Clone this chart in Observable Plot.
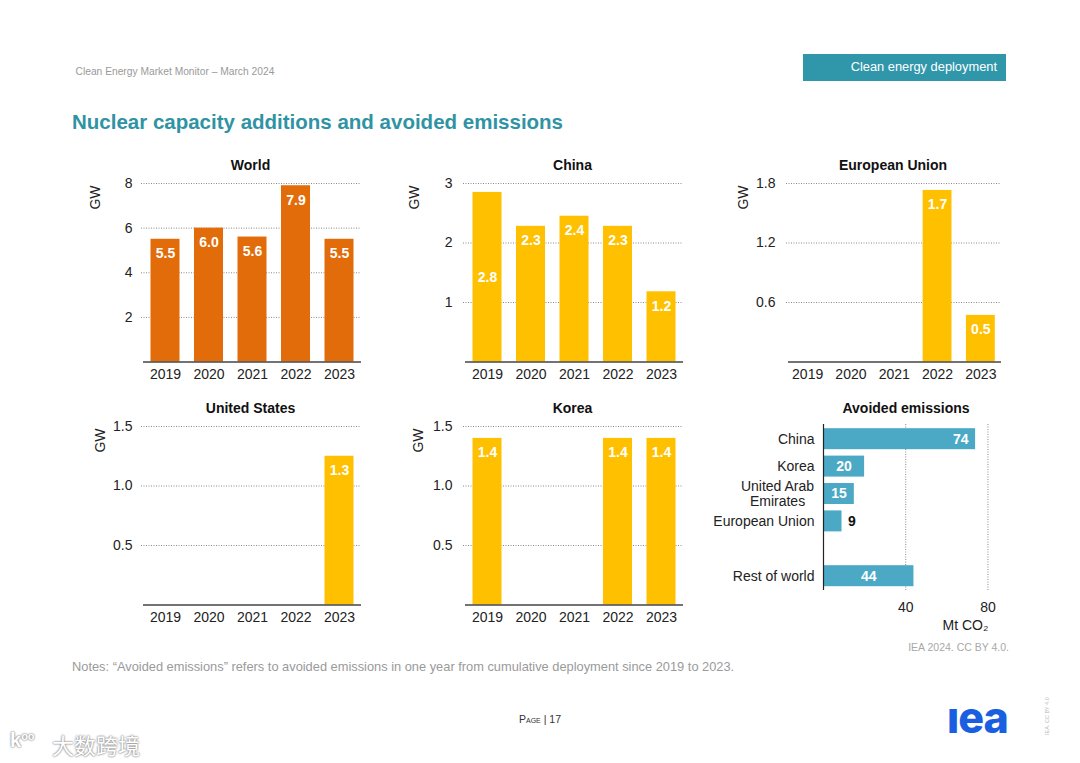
<!DOCTYPE html>
<html><head><meta charset="utf-8">
<script src="https://cdn.jsdelivr.net/npm/d3@7"></script>
<script src="https://cdn.jsdelivr.net/npm/@observablehq/plot@0.6"></script>
<style>
html,body{margin:0;padding:0;background:#fff;}
body{position:relative;width:1080px;height:763px;overflow:hidden;font-family:"Liberation Sans",Arial,sans-serif;}
.t{position:absolute;white-space:nowrap;line-height:1;}
.p{position:absolute;}
.p svg{display:block;overflow:visible;background:transparent;}
</style></head><body>
<div class="t" style="left:75.5px;top:67px;font-size:10.25px;color:#9a9a9a">Clean Energy Market Monitor – March 2024</div>
<div class="t" style="left:803px;top:54px;width:203px;height:27px;background:#3096aa"></div>
<div class="t" style="right:83px;top:61px;font-size:12.85px;color:#fff">Clean energy deployment</div>
<div class="t" style="left:72px;top:112px;font-size:20.5px;font-weight:bold;color:#2f93a4">Nuclear capacity additions and avoided emissions</div>
<div id="charts"></div>
<div class="t" style="right:71px;top:642px;font-size:10.5px;color:#a8a8a8">IEA 2024. CC BY 4.0.</div>
<div class="t" style="left:72px;top:661px;font-size:12.83px;color:#9a9a9a">Notes: “Avoided emissions” refers to avoided emissions in one year from cumulative deployment since 2019 to 2023.</div>
<div class="t" style="left:519px;top:714px;font-size:10.5px;color:#333;font-variant:small-caps">Page | 17</div>
<div class="t" style="left:947px;top:696px;font-size:43px;font-weight:800;letter-spacing:-1px;color:#1a5fe0;font-family:Inter,sans-serif">ıea</div>
<div class="t" style="left:1045px;top:735px;font-size:5.5px;color:#bbb;transform-origin:0 0;transform:rotate(-90deg)">IEA. CC BY 4.0</div>
<div class="t" style="left:10px;top:730px;font-size:20px;color:#fff;font-weight:bold;text-shadow:0 0 2px #888,0 0 2px #888">k<span style="font-size:11px;vertical-align:7px">oo</span></div>
<div class="t" style="left:52px;top:733px;font-size:22px;color:#fff;font-family:'Noto Sans CJK SC';text-shadow:0 0 2px #888,0 0 2px #888">大数跨境</div>
<script>
const years = ["2019","2020","2021","2022","2023"];
const worldValues = [5.5,6.0,5.6,7.9,5.5];
const worldLabels = ["5.5","6.0","5.6","7.9","5.5"];
const chinaValues = [2.85,2.28,2.45,2.28,1.18];
const chinaLabels = ["2.8","2.3","2.4","2.3","1.2"];
const euValues = [0,0,0,1.73,0.47];
const euLabels = ["","","","1.7","0.5"];
const usValues = [0,0,0,0,1.25];
const usLabels = ["","","","","1.3"];
const koreaValues = [1.4,0,0,1.4,1.4];
const koreaLabels = ["1.4","","","1.4","1.4"];
const regions = ["China","Korea","United Arab\nEmirates","European Union"," ","Rest of world"];
const avoided = [74,20,15,9,null,44];

const ORANGE="#e36c0a", YELLOW="#ffc000", BLUE="#4ba9c6", GRID="#8a8a8a", INK="#222";
const FONT='"Liberation Sans",Arial,sans-serif';
const host=document.getElementById("charts");
function place(plot,left,top){const d=document.createElement("div");d.className="p";d.style.left=left+"px";d.style.top=top+"px";d.appendChild(plot);host.appendChild(d);}

function panel(o){
  const mL=65,mR=5,mT=30,mB=30;
  const W=mL+(o.R-o.L)+mR, H=mT+(o.B-o.T)+mB;
  const sx=o.L-mL, sy=o.T-mT;
  const rows=years.map((y,i)=>({year:y,v:o.values[i],label:o.labels[i]}));
  const labelled=rows.filter(d=>d.label!=="");
  const isMid=d=>o.midLabel&&d.year===o.midLabel;
  const plot=Plot.plot({
    width:W,height:H,marginLeft:mL,marginRight:mR,marginTop:mT,marginBottom:mB,
    style:{fontFamily:FONT,fontSize:"14px",background:"transparent",color:INK},
    x:{type:"band",domain:years,range:[o.x0-sx,o.x1-sx],paddingInner:1/3,paddingOuter:1/6,round:false,label:null},
    y:{domain:[0,o.max],label:null},
    marks:[
      Plot.ruleY(o.ticks,{stroke:GRID,strokeWidth:1,strokeDasharray:"1,1.5"}),
      Plot.barY(rows,{x:"year",y:"v",fill:o.fill}),
      Plot.ruleY([0],{stroke:"#444",strokeWidth:1.5,insetLeft:2}),
      Plot.axisY({ticks:o.ticks,tickSize:0,tickPadding:o.pad,tickFormat:o.fmt,label:null,fontSize:14}),
      Plot.axisX({tickSize:0,tickPadding:7,label:null,fontSize:14}),
      Plot.text(labelled.filter(d=>!isMid(d)),{x:"year",y:"v",text:"label",dy:14.5,fill:"#fff",fontWeight:"bold",fontSize:14}),
      Plot.text(labelled.filter(isMid),{x:"year",y:d=>d.v/2,text:"label",fill:"#fff",fontWeight:"bold",fontSize:14}),
      Plot.text([o.title],{frameAnchor:"top",lineAnchor:"middle",dy:-18,dx:-1,fontWeight:"bold",fontSize:14,fill:"#111"}),
      Plot.text(["GW"],{frameAnchor:"top-left",textAnchor:"middle",lineAnchor:"middle",rotate:-90,dx:o.gw-o.L,dy:14,fontSize:14,fill:INK})
    ]
  });
  place(plot,sx,sy);
}

panel({title:"World",values:worldValues,labels:worldLabels,fill:ORANGE,max:8,ticks:[2,4,6,8],fmt:"d",L:141,R:361,T:183,B:361.5,x0:143.25,x1:360.75,pad:9,gw:95});
panel({title:"China",values:chinaValues,labels:chinaLabels,fill:YELLOW,max:3,ticks:[1,2,3],fmt:"d",L:463,R:683,T:183,B:361.5,x0:465.25,x1:682.75,pad:11,gw:414,midLabel:"2019"});
panel({title:"European Union",values:euValues,labels:euLabels,fill:YELLOW,max:1.8,ticks:[0.6,1.2,1.8],fmt:".1f",L:786,R:1001,T:183,B:361.5,x0:785.5,x1:1002,pad:11,gw:743});
panel({title:"United States",values:usValues,labels:usLabels,fill:YELLOW,max:1.5,ticks:[0.5,1.0,1.5],fmt:".1f",L:141,R:361,T:426,B:604.5,x0:143.25,x1:360.75,pad:9,gw:100});
panel({title:"Korea",values:koreaValues,labels:koreaLabels,fill:YELLOW,max:1.5,ticks:[0.5,1.0,1.5],fmt:".1f",L:463,R:683,T:426,B:604.5,x0:465.25,x1:682.75,pad:11,gw:418});

(function(){
  const L=823,R=1008,T=424,B=590,mL=120,mR=10,mT=30,mB=50;
  const rows=regions.map((r,i)=>({region:r,v:avoided[i]})).filter(d=>d.v!==null);
  const names=rows.filter(d=>!d.region.includes("\n"));
  const wrapped=rows.filter(d=>d.region.includes("\n"));
  const plot=Plot.plot({
    width:mL+(R-L)+mR,height:mT+(B-T)+mB,marginLeft:mL,marginRight:mR,marginTop:mT,marginBottom:mB,
    style:{fontFamily:FONT,fontSize:"14px",background:"transparent",color:INK},
    x:{domain:[0,90],range:[mL,mL+185],label:null},
    y:{type:"band",domain:regions,range:[mT+1,mT+165.4],paddingInner:0.234,paddingOuter:0.117,round:false,label:null,axis:null},
    marks:[
      Plot.ruleX([40,80],{stroke:GRID,strokeWidth:1,strokeDasharray:"1,1.5"}),
      Plot.barX(rows,{y:"region",x:"v",fill:BLUE}),
      Plot.ruleX([0],{stroke:"#222",strokeWidth:1.2}),
      Plot.axisX({ticks:[40,80],tickSize:0,tickPadding:12,label:null,fontSize:14}),
      Plot.text(names,{x:0,y:"region",text:"region",textAnchor:"end",dx:-9,fontSize:14,fill:INK}),
      Plot.text(wrapped,{x:0,y:"region",text:"region",textAnchor:"middle",dx:-46,lineHeight:1.08,fontSize:14,fill:INK}),
      Plot.text(rows.filter(d=>d.v===74),{x:"v",y:"region",text:"v",textAnchor:"end",dx:-7,fill:"#fff",fontWeight:"bold",fontSize:14}),
      Plot.text(rows.filter(d=>d.v>=15&&d.v<50),{x:d=>d.v/2,y:"region",text:"v",fill:"#fff",fontWeight:"bold",fontSize:14}),
      Plot.text(rows.filter(d=>d.v<15),{x:"v",y:"region",text:"v",textAnchor:"start",dx:6,fill:"#111",fontWeight:"bold",fontSize:14}),
      Plot.text(["Avoided emissions"],{frameAnchor:"top",lineAnchor:"middle",dy:-16,dx:-10,fontWeight:"bold",fontSize:14,fill:"#111"}),
      Plot.text(["Mt CO₂"],{frameAnchor:"bottom-left",textAnchor:"middle",lineAnchor:"middle",dx:142,dy:35,fontSize:14,fill:INK})
    ]
  });
  place(plot,L-mL,T-mT);
})();
</script>
</body></html>
